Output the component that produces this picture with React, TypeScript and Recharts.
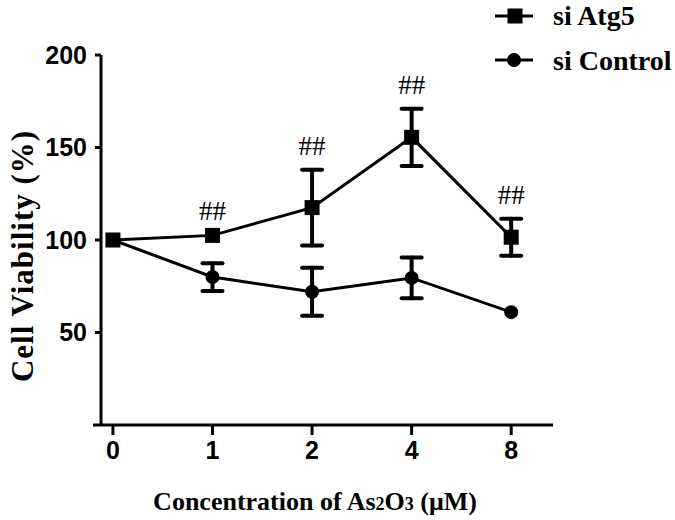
import { LineChart, Line, XAxis, YAxis, ErrorBar, LabelList, ReferenceLine, Label } from 'recharts';

const doses = ['0', '1', '2', '4', '8'];
const atg5 = [100, 102.5, 117.5, 155.5, 101.5];
const atg5Err = [0, 0, 20.5, 15.5, 10];
const control = [100, 80, 72, 79.5, 61];
const controlErr = [0, 7.5, 13, 11, 0];
const sigMarks = ['', '##', '##', '##', '##'];
const yTicks = [50, 100, 150, 200];
const seriesNames = ['si Atg5', 'si Control'];

const data = doses.map((d, i) => ({
  idx: i,
  dose: d,
  atg5: atg5[i],
  atg5Err: atg5Err[i],
  control: control[i],
  controlErr: controlErr[i],
  sigTop: sigMarks[i] ? atg5[i] + atg5Err[i] : null,
  sig: sigMarks[i],
}));

const serif = '"Liberation Serif", "Times New Roman", serif';
const sans = '"Liberation Sans", Arial, sans-serif';

const SquareDot = (props: any) => {
  const { cx, cy, index } = props;
  if (cx == null || cy == null) return null;
  return <rect key={`sq-${index}`} x={cx - 7.5} y={cy - 7.5} width={15} height={15} fill="#000" />;
};

const SigLabel = (props: any) => {
  const { x, y, value } = props;
  if (!value || y == null) return null;
  return (
    <text x={x} y={y - 15} textAnchor="middle" fontFamily={serif} fontSize={27} fill="#000">
      {value}
    </text>
  );
};

const LegendBox = () => (
  <svg width={185} height={80} style={{ position: 'absolute', left: 490, top: 0 }}>
    <line x1={5} y1={16} x2={43} y2={16} stroke="#000" strokeWidth={3} />
    <rect x={17.5} y={8.5} width={15} height={15} fill="#000" />
    <text x={63} y={25} fontFamily={serif} fontWeight="bold" fontSize={28} fill="#000">{seriesNames[0]}</text>
    <line x1={5} y1={60} x2={43} y2={60} stroke="#000" strokeWidth={3} />
    <circle cx={24} cy={60} r={7} fill="#000" />
    <text x={63} y={70} fontFamily={serif} fontWeight="bold" fontSize={28} fill="#000">{seriesNames[1]}</text>
  </svg>
);

export default function App() {
  return (
    <div style={{ position: 'absolute', left: 0, top: 0, width: 675, height: 520, background: '#fff' }}>
      <LineChart width={675} height={520} data={data} margin={{ top: 55, right: 122, bottom: 35, left: 21 }}>
        <XAxis
          type="number"
          dataKey="idx"
          domain={[-0.12, 4.42]}
          allowDataOverflow
          ticks={[0, 1, 2, 3, 4]}
          tickFormatter={(v: number) => doses[v]}
          height={60}
          tickSize={10}
          tickMargin={6}
          axisLine={{ stroke: '#000', strokeWidth: 3 }}
          tickLine={{ stroke: '#000', strokeWidth: 3 }}
          tick={{ fill: '#000', fontFamily: sans, fontWeight: 'bold', fontSize: 25 }}
        >
          <Label
            content={() => (
              <text x={315} y={510} textAnchor="middle" fontFamily={serif} fontWeight="bold" fontSize={26} fill="#000">
                Concentration of As<tspan fontSize={18}>2</tspan>O<tspan fontSize={18}>3</tspan> (μM)
              </text>
            )}
          />
        </XAxis>
        <YAxis
          type="number"
          domain={[0, 200]}
          ticks={yTicks}
          width={80}
          tickSize={6}
          tickMargin={8}
          axisLine={{ stroke: '#000', strokeWidth: 3 }}
          tickLine={{ stroke: '#000', strokeWidth: 3 }}
          tick={{ fill: '#000', fontFamily: sans, fontWeight: 'bold', fontSize: 25 }}
        >
          <Label
            content={() => (
              <text
                x={33}
                y={256}
                transform="rotate(-90 33 256)"
                textAnchor="middle"
                fontFamily={serif}
                fontWeight="bold"
                fontSize={31}
                letterSpacing={1}
                fill="#000"
              >
                Cell Viability (%)
              </text>
            )}
          />
        </YAxis>
        <ReferenceLine
          segment={[{ x: -0.2, y: 0 }, { x: -0.12, y: 0 }]}
          ifOverflow="visible"
          stroke="#000"
          strokeWidth={3}
        />
        <Line
          dataKey="control"
          stroke="#000"
          strokeWidth={3}
          dot={{ r: 7, fill: '#000', stroke: '#000', strokeWidth: 0 }}
          activeDot={false}
          isAnimationActive={false}
        >
          <ErrorBar dataKey="controlErr" direction="y" width={10} stroke="#000" strokeWidth={4} strokeLinecap="round" />
        </Line>
        <Line
          dataKey="atg5"
          stroke="#000"
          strokeWidth={3}
          dot={SquareDot}
          activeDot={false}
          isAnimationActive={false}
        >
          <ErrorBar dataKey="atg5Err" direction="y" width={10} stroke="#000" strokeWidth={4} strokeLinecap="round" />
        </Line>
        <Line
          dataKey="sigTop"
          stroke="none"
          dot={false}
          activeDot={false}
          legendType="none"
          isAnimationActive={false}
        >
          <LabelList dataKey="sig" content={SigLabel} />
        </Line>
      </LineChart>
      <LegendBox />
    </div>
  );
}
